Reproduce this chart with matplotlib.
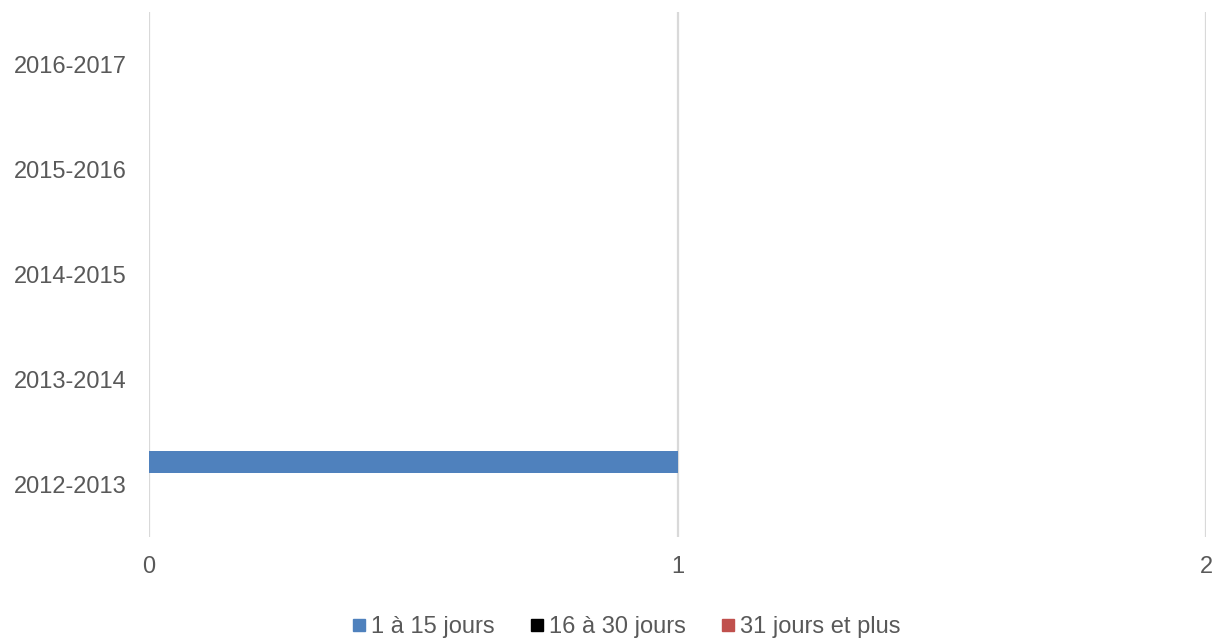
import numpy as np
import matplotlib
matplotlib.use("Agg")
import matplotlib.pyplot as plt

# Durée des absences par année scolaire
annees = ["2012-2013", "2013-2014", "2014-2015", "2015-2016", "2016-2017"]
series = ["1 à 15 jours", "16 à 30 jours", "31 jours et plus"]
j1_15 = [1, 0, 0, 0, 0]
j16_30 = [0, 0, 0, 0, 0]
j31_plus = [0, 0, 0, 0, 0]
couleurs = ["#4F81BD", "#000000", "#C0504D"]

plt.rcParams["font.family"] = ["Liberation Sans", "DejaVu Sans"]

fig = plt.figure(figsize=(12.17, 6.4), dpi=100)
ax = fig.add_axes([149 / 1217, 103 / 640, 1057 / 1217, 525 / 640])

y = np.arange(len(annees))
h = 0.21
for k, (vals, col) in enumerate(zip([j1_15, j16_30, j31_plus], couleurs)):
    ax.barh(y + (1 - k) * h, vals, height=h, color=col, label=series[k], zorder=3)

ax.set_xlim(0, 2)
ax.set_ylim(-0.5, len(annees) - 0.5)
ax.set_xticks([0, 1, 2])
ax.set_yticks(y)
ax.set_yticklabels(annees)
ax.tick_params(length=0, labelsize=17, labelcolor="#595959")
ax.tick_params(axis="x", pad=14)
ax.tick_params(axis="y", pad=16)
ax.grid(axis="x", color="#d9d9d9", linewidth=1.6, zorder=0)
for s in ax.spines.values():
    s.set_visible(False)

handles = [plt.Line2D([], [], marker="s", linestyle="", markersize=8,
                      color=c) for c in couleurs]
fig.legend(handles, series, loc="center", bbox_to_anchor=(626 / 1217, 1 - 627 / 640),
           ncol=3, frameon=False, fontsize=17, labelcolor="#595959",
           handlelength=0.6, handletextpad=0.2, columnspacing=1.5)

fig.savefig("out.png", dpi=100)
